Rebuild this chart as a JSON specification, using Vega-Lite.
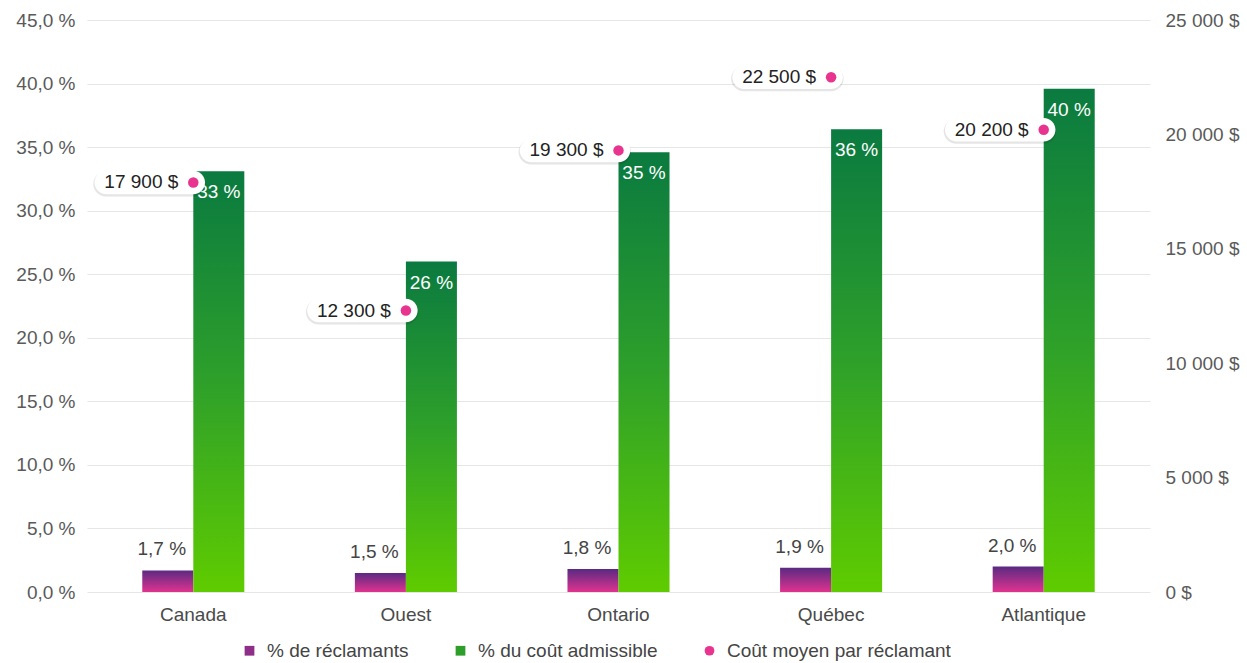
{
  "$schema": "https://vega.github.io/schema/vega-lite/v6.json",
  "width": 1063,
  "height": 572,
  "autosize": {"type": "none"},
  "padding": {"left": 87, "top": 20, "right": 97, "bottom": 71},
  "background": "white",
  "config": {
    "view": {"stroke": null},
    "font": "Liberation Sans",
    "axis": {"labelFont": "Liberation Sans", "labelFontSize": 19, "labelColor": "#5a5a5a", "title": null, "domain": false, "ticks": false},
    "legend": {"labelFont": "Liberation Sans"},
    "text": {"font": "Liberation Sans"}
  },
  "data": {
    "values": [
      {"region": "Canada", "reclamants": 1.7, "cout_admissible": 33.1, "cout_moyen": 17900},
      {"region": "Ouest", "reclamants": 1.5, "cout_admissible": 26.0, "cout_moyen": 12300},
      {"region": "Ontario", "reclamants": 1.8, "cout_admissible": 34.6, "cout_moyen": 19300},
      {"region": "Québec", "reclamants": 1.9, "cout_admissible": 36.4, "cout_moyen": 22500},
      {"region": "Atlantique", "reclamants": 2.0, "cout_admissible": 39.6, "cout_moyen": 20200}
    ]
  },
  "layer": [
    {
      "transform": [{"fold": ["reclamants", "cout_admissible"], "as": ["serie", "valeur"]}],
      "encoding": {
        "x": {"field": "region", "type": "nominal", "sort": null,
              "scale": {"paddingInner": 0.52, "paddingOuter": 0.26},
              "axis": {"labelAngle": 0, "labelColor": "#4a4a4a", "labelPadding": 13}},
        "xOffset": {"field": "serie", "type": "nominal",
                    "scale": {"domain": ["reclamants", "cout_admissible"], "paddingInner": 0, "paddingOuter": 0}},
        "y": {"field": "valeur", "type": "quantitative",
              "scale": {"domain": [0, 45]},
              "axis": {"orient": "left", "values": [0, 5, 10, 15, 20, 25, 30, 35, 40, 45],
                       "labelExpr": "replace(format(datum.value, '.1f'), '.', ',') + ' %'",
                       "grid": true, "gridColor": "#e6e6e6", "labelPadding": 12}}
      },
      "layer": [
        {
          "transform": [{"filter": "datum.serie === 'reclamants'"}],
          "mark": {"type": "bar", "color": {"gradient": "linear", "x1": 0, "y1": 0, "x2": 0, "y2": 1,
                   "stops": [{"offset": 0, "color": "#5a2a82"}, {"offset": 1, "color": "#e0338f"}]}}
        },
        {
          "transform": [{"filter": "datum.serie === 'cout_admissible'"}],
          "mark": {"type": "bar", "color": {"gradient": "linear", "x1": 0, "y1": 0, "x2": 0, "y2": 1,
                   "stops": [{"offset": 0, "color": "#0a7a40"}, {"offset": 0.5, "color": "#2ea02a"}, {"offset": 1, "color": "#5fcc00"}]}}
        },
        {
          "transform": [{"filter": "datum.serie === 'reclamants'"},
                        {"calculate": "replace(format(datum.valeur, '.1f'), '.', ',') + ' %'", "as": "lbl"}],
          "mark": {"type": "text", "baseline": "middle", "dy": -21, "dx": -6, "fontSize": 19, "color": "#444444"},
          "encoding": {"text": {"field": "lbl"}}
        },
        {
          "transform": [{"filter": "datum.serie === 'cout_admissible'"},
                        {"calculate": "format(datum.valeur, '.0f') + ' %'", "as": "lbl"}],
          "mark": {"type": "text", "baseline": "middle", "dy": 21, "fontSize": 19, "color": "white"},
          "encoding": {"text": {"field": "lbl"}}
        }
      ]
    },
    {
      "transform": [{"calculate": "replace(format(datum.cout_moyen, ','), ',', ' ') + ' $'", "as": "lbl"}],
      "encoding": {
        "x": {"field": "region", "type": "nominal", "sort": null,
              "scale": {"paddingInner": 0.52, "paddingOuter": 0.26}},
        "y": {"field": "cout_moyen", "type": "quantitative",
              "scale": {"domain": [0, 25000]},
              "axis": {"orient": "right", "values": [0, 5000, 10000, 15000, 20000, 25000],
                       "labelExpr": "replace(format(datum.value, ','), ',', ' ') + ' $'",
                       "grid": false, "labelPadding": 15}}
      },
      "layer": [
        {
          "mark": {"type": "point", "filled": true, "size": 10000, "color": "black", "opacity": 0.10, "yOffset": 1.5,
                   "shape": "M -1.75 -0.25 L 0.0 -0.25 A 0.25 0.25 0 0 1 0.0 0.25 L -1.75 0.25 A 0.25 0.25 0 0 1 -1.75 -0.25 Z"}
        },
        {
          "mark": {"type": "point", "filled": true, "size": 10000, "color": "white", "opacity": 1,
                   "shape": "M -1.74 -0.235 L 0.0 -0.235 A 0.235 0.235 0 0 1 0.0 0.235 L -1.74 0.235 A 0.235 0.235 0 0 1 -1.74 -0.235 Z"}
        },
        {
          "mark": {"type": "point", "filled": true, "size": 110, "color": "#e8348f", "opacity": 1, "shape": "circle"}
        },
        {
          "mark": {"type": "text", "align": "right", "baseline": "middle", "dx": -15, "fontSize": 19, "color": "#222222"},
          "encoding": {"text": {"field": "lbl"}}
        }
      ]
    },
    {
      "data": {"values": [{"serie": "% de réclamants"}, {"serie": "% du coût admissible"}, {"serie": "Coût moyen par réclamant"}]},
      "mark": {"type": "point", "filled": true, "opacity": 0},
      "encoding": {
        "color": {"field": "serie", "type": "nominal",
                  "scale": {"domain": ["% de réclamants", "% du coût admissible", "Coût moyen par réclamant"],
                            "range": ["#8e2e88", "#2e9e2a", "#e8348f"]},
                  "legend": {"orient": "none", "legendX": 153, "legendY": 621, "direction": "horizontal", "title": null,
                             "labelFontSize": 19, "labelColor": "#444444", "labelLimit": 400, "symbolSize": 95, "symbolOpacity": 1,
                             "columnPadding": 42, "labelOffset": 8, "padding": 0, "symbolStrokeWidth": 0,
                             "encode": {"symbols": {"update": {"opacity": {"value": 1}, "fillOpacity": {"value": 1}}}}}},
        "shape": {"field": "serie", "type": "nominal",
                  "scale": {"domain": ["% de réclamants", "% du coût admissible", "Coût moyen par réclamant"],
                            "range": ["square", "square", "circle"]}}
      }
    }
  ],
  "resolve": {"scale": {"y": "independent"}}
}
